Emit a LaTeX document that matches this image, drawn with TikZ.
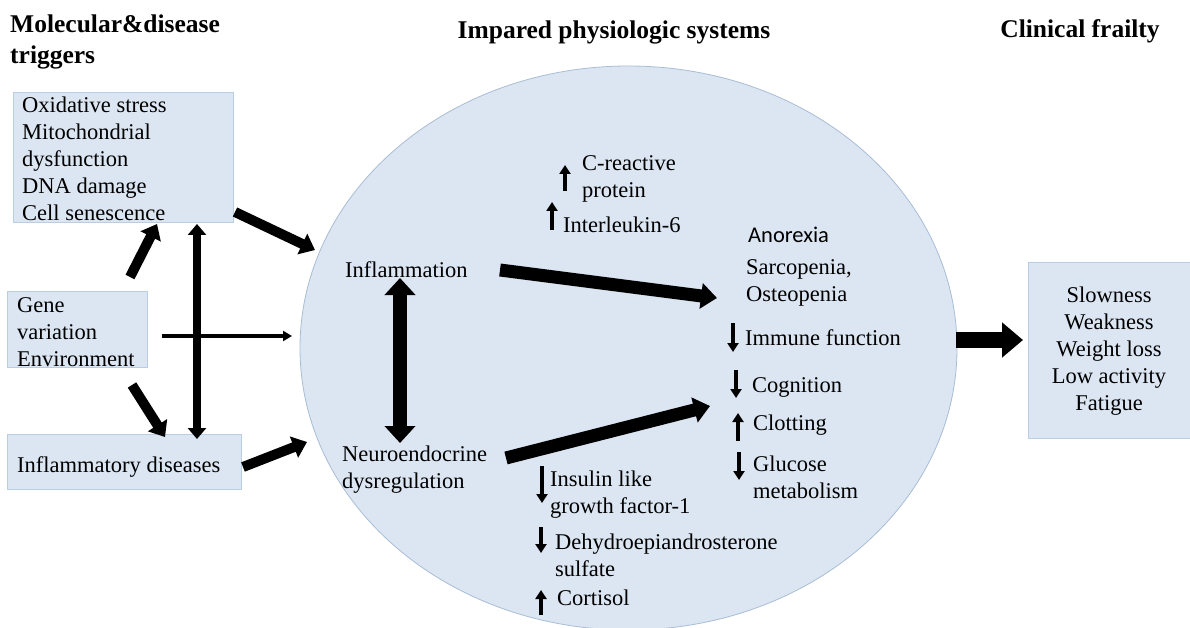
\documentclass[tikz,border=0pt]{standalone}
\usepackage{fontspec}
\setmainfont{Liberation Serif}
\newfontfamily\calib{Carlito}
\usetikzlibrary{arrows.meta,shapes.geometric}
\definecolor{boxfill}{HTML}{DCE6F2}
\definecolor{boxline}{HTML}{B9CDE5}
\definecolor{ellfill}{HTML}{DBE6F2}
\definecolor{ellline}{HTML}{A9BDD4}
\begin{document}
\begin{tikzpicture}[x=1pt,y=-1pt,
  txt/.style={font=\rmfamily\fontsize{22.5}{27}\selectfont, inner sep=0pt, align=left},
  ttl/.style={font=\rmfamily\fontsize{25.5}{31}\selectfont\bfseries, inner sep=0pt, align=left},
  box/.style={draw=boxline, fill=boxfill, line width=1pt, inner sep=0pt, anchor=north west},
  fatarr/.style={line width=10pt, -{Triangle[width=22pt,length=14pt]}},
  midarr/.style={line width=13pt, -{Triangle[width=25pt,length=16pt]}},
  vdbl/.style={line width=8pt, {Triangle[width=18pt,length=11pt]}-{Triangle[width=18pt,length=11pt]}},
  bigdbl/.style={line width=14pt, {Triangle[width=30pt,length=17pt]}-{Triangle[width=30pt,length=17pt]}},
  thinarr/.style={line width=3.5pt, -{Triangle[width=10pt,length=9pt]}},
  outarr/.style={line width=16pt, -{Triangle[width=34pt,length=21pt]}},
  tick/.style={line width=4.5pt, -{Triangle[width=11pt,length=9pt]}}
]
\useasboundingbox (0,0) rectangle (1190,628);
\clip (0,0) rectangle (1190,628);
\fill[white] (0,0) rectangle (1190,628);

% central ellipse
\node[ellipse, draw=ellline, fill=ellfill, line width=0.8pt, minimum width=657pt, minimum height=564pt, inner sep=0pt] (ell) at (628.5,348) {};

% titles
\node[ttl, anchor=west] (h1) at (10,42) {Molecular\&disease\\triggers};
\node[ttl] (h2) at (614,32) {Impared physiologic systems};
\node[ttl] (h3) at (1080,31) {Clinical frailty};

% boxes
\node[box, minimum width=220pt, minimum height=130pt] (b1) at (13,92) {};
\node[box, minimum width=140pt, minimum height=76pt] (b2) at (7,291) {};
\node[box, minimum width=234pt, minimum height=55pt] (b3) at (7,434) {};
\node[box, minimum width=163pt, minimum height=176pt] (b4) at (1028,262) {};

\node[txt, anchor=west] (t1) at (22,158.5) {Oxidative stress\\Mitochondrial\\dysfunction\\DNA damage\\Cell senescence};
\node[txt, anchor=west] (t2) at (17,332) {Gene\\variation\\Environment};
\node[txt, anchor=west] (t3) at (17,467) {Inflammatory diseases};
\node[txt, align=center] (t4) at (1109,351) {Slowness\\Weakness\\Weight loss\\Low activity\\Fatigue};

% inner texts
\node[txt, anchor=west] (crp) at (582,179) {C-reactive\\protein};
\node[txt, anchor=west] (il6) at (563,225) {Interleukin-6};
\node[txt, anchor=west] (infl) at (345,270) {Inflammation};
\node[txt, anchor=west] (neuro) at (342,470) {Neuroendocrine\\dysregulation};
\node[txt, anchor=west, font=\calib\fontsize{22.5}{27}\selectfont] (anor) at (748,235) {Anorexia};
\node[txt, anchor=west] (sarc) at (746,283) {Sarcopenia,\\Osteopenia};
\node[txt, anchor=west] (immu) at (745,338) {Immune function};
\node[txt, anchor=west] (cogn) at (752,387) {Cognition};
\node[txt, anchor=west] (clot) at (753,425) {Clotting};
\node[txt, anchor=west] (gluc) at (753,477) {Glucose\\metabolism};
\node[txt, anchor=west] (igf) at (550,495) {Insulin like\\growth factor-1};
\node[txt, anchor=west] (dheas) at (555,555) {Dehydroepiandrosterone\\sulfate};
\node[txt, anchor=west] (cort) at (557,598) {Cortisol};

% connector end points
\coordinate (p1s) at (235,212); \coordinate (p1e) at (315,250);
\coordinate (p2s) at (130,277); \coordinate (p2e) at (157,224);
\coordinate (p3s) at (132,385); \coordinate (p3e) at (165,437);
\coordinate (p4s) at (243,467); \coordinate (p4e) at (307,442);
\coordinate (p5s) at (197,224); \coordinate (p5e) at (197,439);
\coordinate (p6s) at (162,336); \coordinate (p6e) at (292,336);
\coordinate (p7s) at (400,278); \coordinate (p7e) at (400,443);
\coordinate (p8s) at (500,270); \coordinate (p8e) at (717,298);
\coordinate (p9s) at (506,458); \coordinate (p9e) at (710,406);
\coordinate (p10s) at (956,340); \coordinate (p10e) at (1023,340);

\draw[fatarr] (p1s) -- (p1e);
\draw[fatarr] (p2s) -- (p2e);
\draw[fatarr] (p3s) -- (p3e);
\draw[fatarr] (p4s) -- (p4e);
\draw[vdbl] (p5s) -- (p5e);
\draw[thinarr] (p6s) -- (p6e);
\draw[bigdbl] (p7s) -- (p7e);
\draw[midarr] (p8s) -- (p8e);
\draw[midarr] (p9s) -- (p9e);
\draw[outarr] (p10s) -- (p10e);

% up / down indicators
\draw[tick] (565,191) -- (565,165);
\draw[tick] (552,230) -- (552,202);
\draw[tick] (733,323) -- (733,352);
\draw[tick] (736,370) -- (736,398);
\draw[tick] (738,441) -- (738,413);
\draw[tick] (739,452) -- (739,480);
\draw[tick] (542,466) -- (542,503);
\draw[tick] (541,527) -- (541,553);
\draw[tick] (541,615) -- (541,590);
\end{tikzpicture}
\end{document}
